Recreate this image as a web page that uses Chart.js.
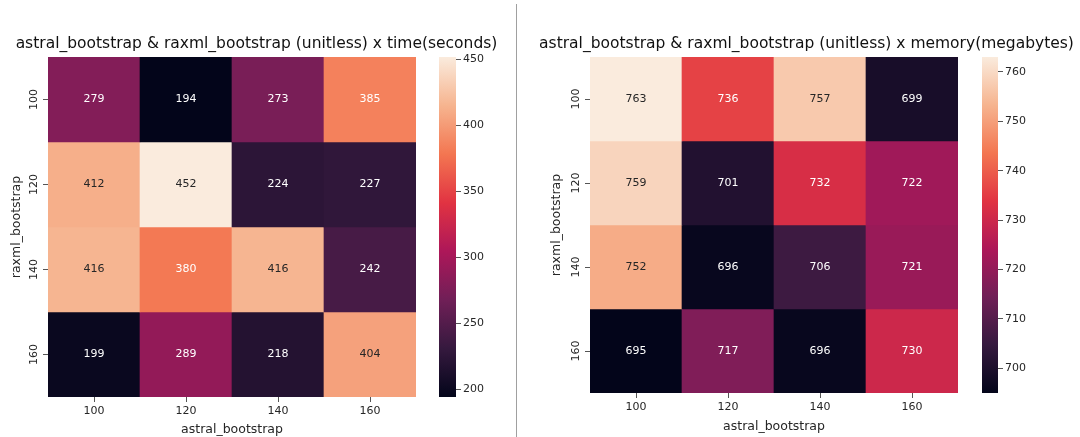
<!DOCTYPE html>
<html>
<head>
<meta charset="utf-8">
<script src="https://cdn.jsdelivr.net/npm/chart.js@4.4.0/dist/chart.umd.min.js"></script>
<style>
  html, body { margin: 0; padding: 0; background: #fff; }
  #stage { position: relative; width: 1080px; height: 437px; overflow: hidden; }
  #stage canvas { position: absolute; top: 0; }
  #divider { position: absolute; left: 516px; top: 4px; width: 1px; height: 433px; background: #a0a0a0; }
</style>
</head>
<body>
<div id="stage">
  <div id="divider"></div>
  <canvas id="timeMap" width="516" height="437" style="left:0"></canvas>
  <canvas id="timeBar" width="70" height="437" style="left:439px"></canvas>
  <canvas id="memMap" width="548" height="437" style="left:530px"></canvas>
  <canvas id="memBar" width="66" height="437" style="left:982px"></canvas>
</div>
<script>
// 축 라벨 (astral = x, raxml = y)
const astralLabels = ['100', '120', '140', '160'];
const raxmlLabels = ['100', '120', '140', '160'];

// 행 = raxml_bootstrap, 열 = astral_bootstrap
const timeValues = [
  [279, 194, 273, 385],
  [412, 452, 224, 227],
  [416, 380, 416, 242],
  [199, 289, 218, 404],
];
const memoryValues = [
  [763, 736, 757, 699],
  [759, 701, 732, 722],
  [752, 696, 706, 721],
  [695, 717, 696, 730],
];

const timeTicks = [200, 250, 300, 350, 400, 450];
const memoryTicks = [700, 710, 720, 730, 740, 750, 760];

// seaborn "rocket" 근사
const ROCKET = [
  [0, [3, 5, 26]],
  [1 / 7, [53, 25, 62]],
  [2 / 7, [112, 31, 87]],
  [3 / 7, [173, 23, 89]],
  [4 / 7, [225, 51, 66]],
  [5 / 7, [243, 118, 81]],
  [6 / 7, [246, 180, 143]],
  [1, [250, 235, 221]],
];
const FONT = 'DejaVu Sans';
const INK = '#262626';

function rocket(t) {
  t = Math.max(0, Math.min(1, t));
  for (let i = 1; i < ROCKET.length; i++) {
    const [t1, c1] = ROCKET[i];
    const [t0, c0] = ROCKET[i - 1];
    if (t <= t1) {
      const f = (t - t0) / (t1 - t0);
      return c0.map((c, k) => Math.round(c + (c1[k] - c) * f));
    }
  }
  return ROCKET[ROCKET.length - 1][1];
}
const rgb = (c) => `rgb(${c[0]},${c[1]},${c[2]})`;
function luminance(c) {
  const f = (v) => { v /= 255; return v <= 0.03928 ? v / 12.92 : Math.pow((v + 0.055) / 1.055, 2.4); };
  return 0.2126 * f(c[0]) + 0.7152 * f(c[1]) + 0.0722 * f(c[2]);
}

// 셀 값 표시
const annotate = {
  id: 'annotate',
  afterDatasetsDraw(chart) {
    const { ctx } = chart;
    ctx.save();
    ctx.font = `11px "${FONT}"`;
    ctx.textAlign = 'center';
    ctx.textBaseline = 'middle';
    chart.data.datasets.forEach((ds, di) => {
      chart.getDatasetMeta(di).data.forEach((el, i) => {
        ctx.fillStyle = ds.textColors[i];
        ctx.fillText(String(ds.values[i]), el.x, (el.y + el.base) / 2);
      });
    });
    ctx.restore();
  },
};

// 기본 title은 layout padding 폭에 눌려서 자체 구현
const panelTitle = {
  id: 'panelTitle',
  afterDraw(chart, args, opts) {
    const { ctx } = chart;
    ctx.save();
    ctx.font = `15.5px "${FONT}"`;
    ctx.fillStyle = '#111';
    ctx.textAlign = 'center';
    ctx.textBaseline = 'middle';
    ctx.fillText(opts.text, opts.x, opts.y);
    ctx.restore();
  },
};

function heatmap(canvas, { title, titleX, values, area, yTitlePad, xTitlePad }) {
  const flat = values.flat();
  const vmin = Math.min(...flat), vmax = Math.max(...flat);
  const W = canvas.width, H = canvas.height;
  return new Chart(canvas, {
    type: 'bar',
    data: {
      labels: astralLabels,
      datasets: values.map((row, r) => {
        const cols = row.map((v) => rocket((v - vmin) / (vmax - vmin)));
        return {
          data: row.map(() => [r, r + 1]),
          values: row,
          backgroundColor: cols.map(rgb),
          textColors: cols.map((c) => (luminance(c) > 0.408 ? INK : '#ffffff')),
          borderWidth: 0,
          barPercentage: 1,
          categoryPercentage: 1,
        };
      }),
    },
    options: {
      responsive: false,
      animation: false,
      events: [],
      layout: { padding: { left: 0, right: W - area.right, top: area.top, bottom: 0 } },
      datasets: { bar: { grouped: false } },
      plugins: {
        legend: { display: false },
        tooltip: { enabled: false },
        panelTitle: { text: title, x: titleX, y: 44 },
      },
      scales: {
        x: {
          grid: { offset: false, drawOnChartArea: false, tickLength: 5, color: '#555' },
          border: { display: false },
          ticks: { color: INK, padding: 2.5, font: { family: FONT, size: 11 } },
          title: { display: true, text: 'astral_bootstrap', color: INK, font: { family: FONT, size: 12.5 }, padding: { top: 0, bottom: xTitlePad } },
          afterFit: (s) => { s.height = H - area.bottom; },
        },
        y: {
          type: 'linear', min: 0, max: 4, reverse: true,
          afterBuildTicks: (s) => { s.ticks = raxmlLabels.map((_, i) => ({ value: i + 0.5 })); },
          grid: { drawOnChartArea: false, tickLength: 5, color: '#555' },
          border: { display: false },
          ticks: {
            color: INK, minRotation: 90, maxRotation: 90, crossAlign: 'center', padding: -1.5,
            font: { family: FONT, size: 11 },
            callback: (v) => raxmlLabels[Math.floor(v)],
          },
          title: { display: true, text: 'raxml_bootstrap', color: INK, font: { family: FONT, size: 12.5 }, padding: { top: yTitlePad, bottom: 0 } },
          afterFit: (s) => { s.width = area.left; },
        },
      },
    },
    plugins: [annotate, panelTitle],
  });
}

function colorbar(canvas, { values, ticks, top, bottom, barWidth }) {
  const flat = values.flat();
  const vmin = Math.min(...flat), vmax = Math.max(...flat);
  const W = canvas.width, H = canvas.height;
  return new Chart(canvas, {
    type: 'bar',
    data: {
      labels: [''],
      datasets: [{
        data: [[vmin, vmax]],
        borderWidth: 0,
        barPercentage: 1,
        categoryPercentage: 1,
        backgroundColor: (ctx) => {
          const { chartArea } = ctx.chart;
          if (!chartArea) return null;
          const g = ctx.chart.ctx.createLinearGradient(0, chartArea.bottom, 0, chartArea.top);
          ROCKET.forEach(([t, c]) => g.addColorStop(t, rgb(c)));
          return g;
        },
      }],
    },
    options: {
      responsive: false,
      animation: false,
      events: [],
      layout: { padding: { left: 0, right: 0, top, bottom: H - bottom } },
      plugins: { legend: { display: false }, tooltip: { enabled: false } },
      scales: {
        x: { display: false },
        y: {
          position: 'right', min: vmin, max: vmax,
          afterBuildTicks: (s) => { s.ticks = ticks.map((value) => ({ value })); },
          grid: { drawOnChartArea: false, tickLength: 5, color: '#555' },
          border: { display: false },
          ticks: { color: INK, padding: 2, font: { family: FONT, size: 11 } },
          afterFit: (s) => { s.width = W - barWidth; },
        },
      },
    },
  });
}

heatmap(document.getElementById('timeMap'), {
  title: 'astral_bootstrap & raxml_bootstrap (unitless) x time(seconds)',
  titleX: 256.5,
  values: timeValues,
  area: { left: 48, right: 416, top: 57, bottom: 397 },
  yTitlePad: 9.5,
  xTitlePad: 0,
});
colorbar(document.getElementById('timeBar'), { values: timeValues, ticks: timeTicks, top: 57, bottom: 397, barWidth: 17 });

heatmap(document.getElementById('memMap'), {
  title: 'astral_bootstrap & raxml_bootstrap (unitless) x memory(megabytes)',
  titleX: 276.5,
  values: memoryValues,
  area: { left: 60, right: 428, top: 57, bottom: 393 },
  yTitlePad: 19.5,
  xTitlePad: 2.5,
});
colorbar(document.getElementById('memBar'), { values: memoryValues, ticks: memoryTicks, top: 57, bottom: 393, barWidth: 16 });
</script>
</body>
</html>
